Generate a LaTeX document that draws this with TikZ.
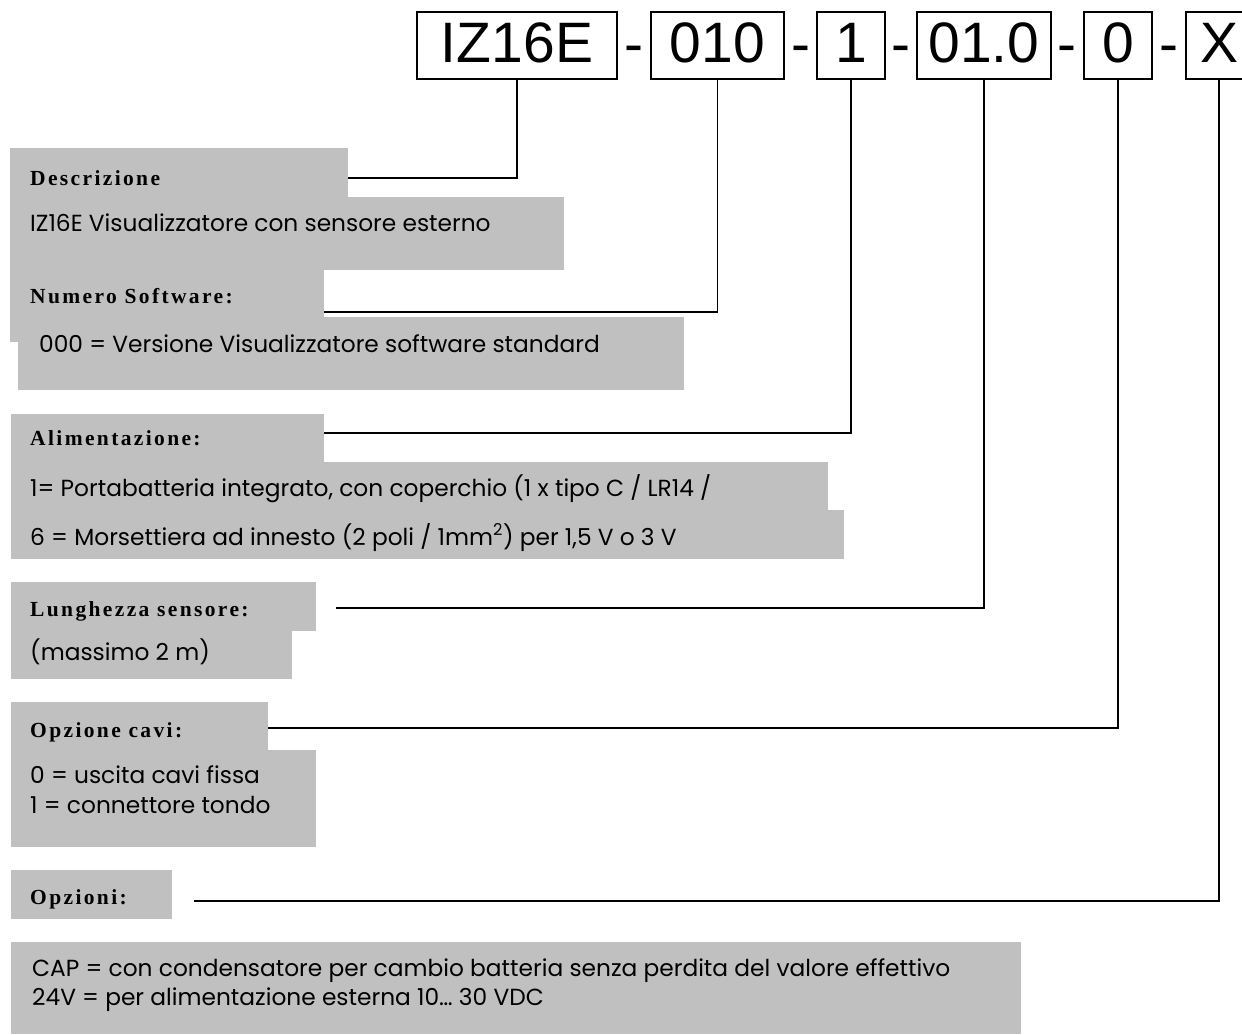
\documentclass[tikz,border=0pt]{standalone}
\usepackage{fontspec}
\setmainfont{Poppins}
\newfontfamily\labelfont[LetterSpace=11]{Liberation Serif}
\newfontfamily\codefont{Liberation Sans}
\definecolor{panel}{RGB}{192,192,192}
\tikzset{
  codebox/.style={draw, line width=1.4pt, inner sep=0pt, minimum height=67pt,
    text depth=6pt, font=\codefont\fontsize{57}{60}\selectfont},
  codedash/.style={anchor=base, inner sep=0pt, font=\codefont\fontsize{57}{60}\selectfont},
  conn/.style={line width=1.5pt, black},
  lbl/.style={anchor=base west, inner sep=0pt, font=\labelfont\bfseries\fontsize{21.5}{24}\selectfont},
  txt/.style={anchor=base west, inner sep=0pt, font=\fontsize{23.3}{28}\selectfont},
}
\begin{document}
\begin{tikzpicture}[x=1pt,y=-1pt]
\useasboundingbox (0,0) rectangle (1242,1034);
\clip (0,0) rectangle (1242,1034);

% gray panels
\fill[panel] (10,148) rectangle (348,197);
\fill[panel] (10,197) rectangle (564,270);
\fill[panel] (10,270) rectangle (324,342);
\fill[panel] (18,317) rectangle (684,390);
\fill[panel] (11,414) rectangle (324,462);
\fill[panel] (11,462) rectangle (828,510);
\fill[panel] (11,510) rectangle (844,559);
\fill[panel] (11,582) rectangle (316,631);
\fill[panel] (11,631) rectangle (292,679);
\fill[panel] (11,702) rectangle (268,750);
\fill[panel] (11,750) rectangle (316,847);
\fill[panel] (11,870) rectangle (172,919);
\fill[panel] (11,942) rectangle (1021,1034);

% code boxes
\node[codebox, minimum width=200pt] (t1) at (517,45.5) {IZ16E};
\node[codebox, minimum width=133pt] (t2) at (717.5,45.5) {010};
\node[codebox, minimum width=68pt] (t3) at (851,45.5) {1};
\node[codebox, minimum width=134pt] (t4) at (984,45.5) {01.0};
\node[codebox, minimum width=68pt] (t5) at (1118,45.5) {0};
\node[codebox, minimum width=66pt] (t6) at (1219,45.5) {X};
\node[codedash] (d1) at (634,63) {-};
\node[codedash] (d2) at (800.5,63) {-};
\node[codedash] (d3) at (901,63) {-};
\node[codedash] (d4) at (1067,63) {-};
\node[codedash] (d5) at (1169,63) {-};

% labels and texts
\node[lbl] (l1) at (30,185) {Descrizione};
\node[txt] (c1) at (30,231) {IZ16E Visualizzatore con sensore esterno};
\node[lbl] (l2) at (30,303) {Numero Software:};
\node[txt] (c2) at (39,352) {000 = Versione Visualizzatore software standard};
\node[lbl] (l3) at (30,445) {Alimentazione:};
\node[txt] (c3a) at (30,496) {1= Portabatteria integrato, con coperchio (1 x tipo C / LR14 /};
\node[txt] (c3b) at (30,545) {6 = Morsettiera ad innesto (2 poli / 1mm\textsuperscript{2}) per 1,5 V o 3 V};
\node[lbl] (l4) at (30,616) {Lunghezza sensore:};
\node[txt] (c4) at (30,660) {(massimo 2 m)};
\node[lbl] (l5) at (30,737) {Opzione cavi:};
\node[txt] (c5a) at (30,783) {0 = uscita cavi fissa};
\node[txt] (c5b) at (30,813) {1 = connettore tondo};
\node[lbl] (l6) at (30,904) {Opzioni:};
\node[txt] (c6a) at (32,976) {CAP = con condensatore per cambio batteria senza perdita del valore effettivo};
\node[txt] (c6b) at (32,1005) {24V = per alimentazione esterna 10… 30 VDC};

% connector ends
\coordinate (e1) at (348,178);
\coordinate (e2) at (324,312);
\coordinate (e3) at (324,433);
\coordinate (e4) at (336,608);
\coordinate (e5) at (268,728);
\coordinate (e6) at (194,901);
\draw[conn] (t1.south) |- (e1);
\draw[conn] (t2.south) |- (e2);
\draw[conn] (t3.south) |- (e3);
\draw[conn] (t4.south) |- (e4);
\draw[conn] (t5.south) |- (e5);
\draw[conn] (t6.south) |- (e6);
\end{tikzpicture}
\end{document}
